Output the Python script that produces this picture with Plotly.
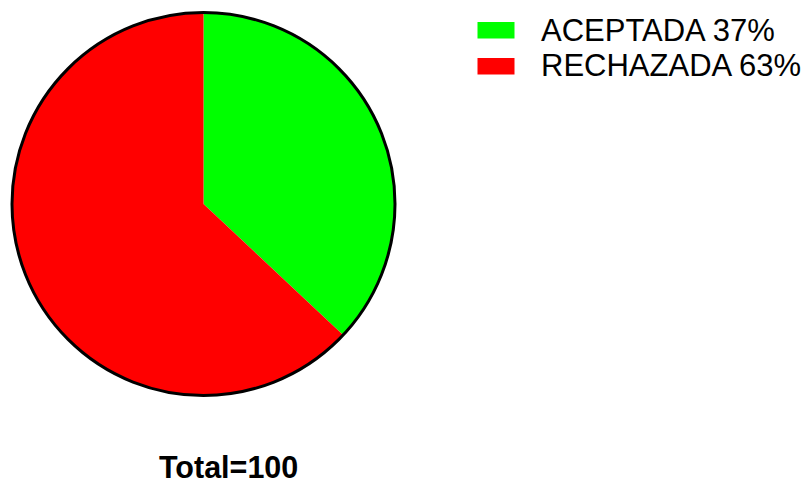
import plotly.graph_objects as go

# Data
categories = ["ACEPTADA", "RECHAZADA"]
percentages = [37, 63]
colors = ["#00FF00", "#FF0000"]
total = 100

W, H = 804, 485

# Pie geometry in pixels (centre and radius), converted to paper coords
cx, cy, r = 203.5, 204.0, 191.5
dom_x = [(cx - r) / W, (cx + r) / W]
dom_y = [(H - cy - r) / H, (H - cy + r) / H]

fig = go.Figure()
fig.add_trace(go.Pie(
    labels=categories,
    values=percentages,
    marker=dict(colors=colors, line=dict(width=0)),
    sort=False,
    direction="clockwise",
    rotation=0,
    textinfo="none",
    hoverinfo="label+percent",
    showlegend=False,
    domain=dict(x=dom_x, y=dom_y),
))

# Outer outline of the pie
fig.add_shape(type="circle", xref="paper", yref="paper",
              x0=dom_x[0], x1=dom_x[1], y0=dom_y[0], y1=dom_y[1],
              line=dict(color="black", width=3), fillcolor="rgba(0,0,0,0)")

# Custom legend: swatches and labels
box_x0, box_x1 = 477.5, 514.5
row_tops = [22, 58]
for i, (cat, pct, col) in enumerate(zip(categories, percentages, colors)):
    top = row_tops[i]
    fig.add_shape(type="rect", xref="paper", yref="paper",
                  x0=box_x0 / W, x1=box_x1 / W,
                  y0=(H - top - 16.5) / H, y1=(H - top) / H,
                  line=dict(width=0), fillcolor=col)
    fig.add_annotation(xref="paper", yref="paper",
                       x=539 / W, y=(H - top - 8) / H,
                       xanchor="left", yanchor="middle",
                       text=f"{cat} {pct}%", showarrow=False,
                       font=dict(family="Liberation Sans, Arial", size=31, color="black"))

fig.add_annotation(xref="paper", yref="paper",
                   x=228.5 / W, y=(H - 466.5) / H,
                   xanchor="center", yanchor="middle",
                   text=f"<b>Total={total}</b>", showarrow=False,
                   font=dict(family="Liberation Sans, Arial", size=30.5, color="black"))

fig.update_layout(
    width=W, height=H,
    margin=dict(l=0, r=0, t=0, b=0),
    paper_bgcolor="white", plot_bgcolor="white",
)

fig.write_html("out.html")
